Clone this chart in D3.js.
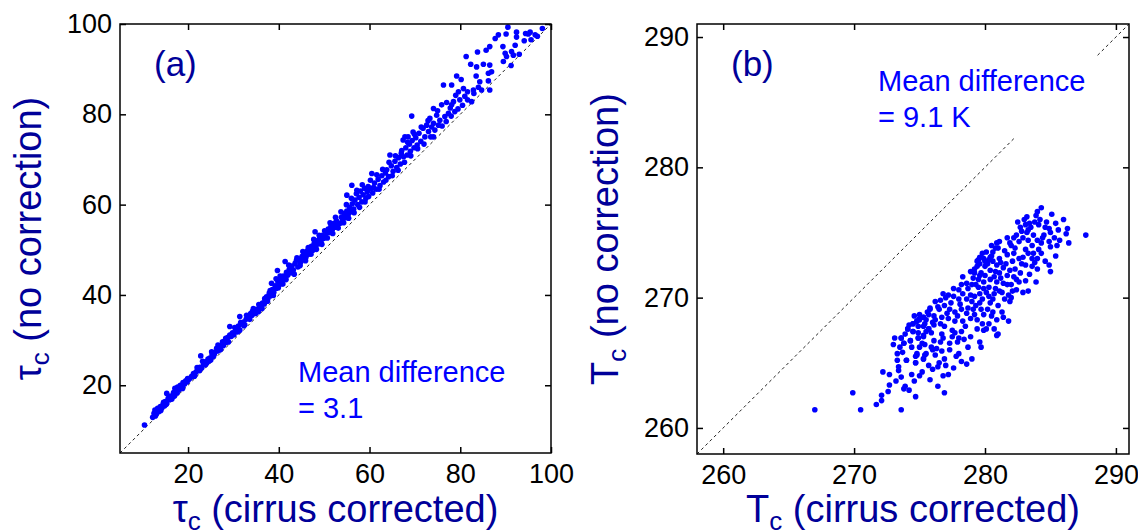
<!DOCTYPE html>
<html>
<head>
<meta charset="utf-8">
<script src="https://cdn.jsdelivr.net/npm/d3@7"></script>
<style>
  body { margin: 0; background: #fff; }
  text { font-family: "Liberation Sans", Arial, sans-serif; }
</style>
</head>
<body>
<div id="chart"></div>
<script>
// ---- data ----
const tauTicks = [20, 40, 60, 80, 100];
const tauDomain = [5, 100];
const tempTicks = [260, 270, 280, 290];
const tempDomain = [258, 291];

// one-to-one reference lines (panel b is broken around the annotation)
const tauDiagonal = [[[5, 5], [100, 100]]];
const tempDiagonal = [[[258, 258], [282.3, 282.3]], [[288.6, 288.6], [291, 291]]];

// (cirrus corrected, no correction) optical thickness
const tauPoints = [
  [10.4,11.2],[12.2,12.9],[12.5,13.8],[12.7,14.5],[13.0,13.6],[13.3,14.9],[13.6,14.2],[13.9,15.3],[14.2,15.0],[14.5,15.8],
  [14.8,15.4],[15.0,16.4],[15.3,16.0],[15.3,18.2],[15.6,17.0],[15.9,16.8],[16.2,17.6],[16.5,17.3],[16.8,18.4],[17.1,18.0],
  [17.1,19.3],[17.4,18.8],[17.7,19.6],[18.0,19.0],[18.3,20.0],[18.6,19.6],[18.9,20.6],[19.2,20.2],[19.5,21.0],[19.8,20.8],
  [20.1,21.2],[20.5,21.6],[21.2,22.6],[21.5,22.3],[21.8,23.0],[22.2,23.4],[22.8,26.5],[22.6,24.0],[23.0,23.8],[23.4,24.7],
  [23.8,24.5],[24.1,24.9],[24.4,25.8],[24.8,26.0],[25.0,25.6],[25.3,26.8],[25.6,26.4],[25.9,27.3],[26.3,28.2],[26.5,27.6],
  [26.8,28.5],[27.2,28.0],[27.5,29.0],[27.8,28.8],[28.1,29.8],[28.4,29.5],[28.8,30.6],[29.2,31.1],[29.2,33.0],[29.5,30.8],
  [29.8,31.6],[30.1,31.2],[30.5,32.4],[30.8,32.0],[31.1,33.1],[31.4,32.2],[31.4,35.2],[31.8,33.6],[32.2,34.0],[32.5,33.4],
  [32.8,34.6],[33.2,35.0],[33.5,34.8],[33.8,35.9],[34.1,35.5],[34.4,37.0],[34.8,36.4],[35.2,36.8],[35.5,36.3],[35.8,37.5],
  [36.1,37.2],[36.4,38.2],[36.8,38.0],[37.0,38.8],[37.3,39.6],[37.6,39.2],[37.9,40.4],[38.2,39.8],[38.4,42.6],[38.6,41.2],
  [38.9,40.6],[39.2,42.0],[39.5,41.5],[39.7,45.4],[39.8,43.0],[40.1,42.2],[40.4,43.4],[40.7,42.8],[41.0,44.2],[41.4,47.4],
  [41.3,43.6],[41.7,45.0],[42.0,44.4],[42.3,45.6],[42.6,44.9],[42.9,46.4],[43.2,45.5],[43.6,47.0],[43.9,47.7],[44.2,46.2],
  [44.5,47.9],[44.8,47.2],[45.1,48.5],[45.4,47.8],[45.7,49.2],[46.0,48.4],[46.3,49.8],[46.6,49.0],[46.9,50.0],[47.2,50.8],
  [47.5,49.9],[47.8,51.4],[48.0,54.0],[48.1,50.6],[48.4,52.0],[48.7,51.3],[49.0,52.6],[49.3,51.8],[49.6,53.2],[49.9,52.5],
  [50.2,53.0],[50.6,53.7],[50.9,54.6],[51.2,53.8],[51.5,55.2],[51.8,54.5],[52.1,55.8],[52.4,55.0],[52.7,56.4],[53.0,55.6],
  [53.5,55.9],[53.8,57.2],[54.1,56.3],[54.4,58.0],[54.7,57.1],[55.0,62.1],[55.0,58.6],[55.3,57.8],[55.6,59.4],[55.9,58.4],
  [56.1,64.3],[56.2,60.2],[56.5,59.0],[56.8,61.0],[57.1,62.4],[57.4,60.0],[57.7,61.6],[58.0,63.0],[58.3,60.6],[58.6,62.2],
  [58.9,63.6],[59.2,61.4],[59.7,64.0],[59.5,62.8],[59.8,61.8],[60.5,66.9],[60.3,63.6],[60.7,62.6],[61.1,64.8],[61.5,63.4],
  [61.9,65.6],[62.3,64.2],[62.7,66.4],[63.1,65.0],[63.5,67.0],[63.8,67.7],[64.2,66.2],[64.5,71.0],[64.8,68.6],[65.2,67.4],
  [65.6,69.6],[66.0,68.2],[66.4,70.4],[66.8,69.0],[67.1,72.0],[67.4,74.3],[67.5,70.6],[67.8,75.0],[68.0,72.6],[68.3,71.0],
  [68.5,75.0],[68.8,73.4],[69.0,71.8],[69.3,79.6],[69.4,74.2],[69.6,76.1],[69.8,72.6],[70.2,74.8],[70.5,73.2],[70.9,75.8],
  [71.3,74.0],[71.8,76.9],[72.2,75.0],[72.6,77.6],[73.0,76.2],[73.3,79.1],[73.7,77.2],[74.1,78.0],[74.1,81.3],[74.4,76.5],
  [74.1,75.0],[74.8,79.8],[75.2,77.6],[75.5,78.7],[75.9,82.1],[76.3,86.5],[76.6,79.5],[76.9,78.4],[77.4,80.2],[77.8,81.4],
  [78.1,82.1],[78.1,86.5],[78.5,82.8],[78.8,80.6],[79.2,88.5],[79.6,85.0],[79.9,83.2],[79.5,81.2],[80.2,87.7],[80.7,85.7],
  [80.5,82.0],[81.0,84.0],[81.3,92.8],[81.6,85.0],[81.6,83.2],[82.3,91.1],[82.5,82.8],[82.9,85.4],[83.0,84.6],[83.5,88.5],
  [83.6,90.5],[83.8,93.8],[84.0,86.0],[84.3,87.2],[84.7,85.4],[85.1,91.1],[85.7,94.2],[86.2,87.4],[86.2,89.1],[86.5,85.4],
  [86.5,90.9],[86.5,95.0],[86.9,89.4],[87.7,96.8],[88.4,97.6],[89.4,95.0],[89.5,91.7],[89.9,93.5],[90.1,97.8],[90.2,92.8],
  [90.5,99.3],[91.2,90.8],[91.3,93.9],[91.7,93.1],[92.1,95.3],[92.4,97.1],[92.4,98.2],[93.0,93.3],[94.1,96.3],[94.4,97.9],
  [95.0,97.8],[95.4,98.2],[95.6,96.5],[96.5,97.6],[97.0,97.3],[98.1,99.0],
  [12.8,13.2],[13.5,14.6],[14.0,14.4],[14.6,16.2],[15.2,15.8],[15.8,17.5],[16.4,16.9],[17.0,17.6],[17.6,18.3],[18.2,19.4],
  [18.8,19.3],[19.4,20.6],[19.9,21.5],[20.8,22.0],[21.4,22.0],[22.0,23.9],[22.5,23.2],[23.2,25.3],[23.9,25.2],[24.6,25.4],
  [25.2,27.4],[25.8,26.9],[26.6,28.9],[27.0,27.8],[27.6,29.6],[28.3,30.4],[28.9,29.6],[29.6,31.2],[30.3,32.8],[30.9,31.8],
  [31.6,33.9],[32.3,33.2],[32.9,35.5],[33.6,34.6],[34.2,36.4],[34.9,35.9],[35.6,37.9],[36.3,37.0],[36.9,39.2],[37.5,38.6],
  [38.1,41.0],[38.8,39.9],[39.4,43.6],[39.9,41.6],[40.3,44.2],[40.9,42.4],[41.6,43.4],[42.2,46.6],[42.8,45.2],[43.4,44.6],
  [44.0,48.2],[44.7,46.5],[45.3,49.6],[45.9,47.6],[46.5,50.5],[47.1,49.0],[47.7,52.3],[48.3,50.1],[48.9,53.2],[49.5,51.2],
  [50.1,54.2],[50.7,52.6],[51.3,56.0],[51.9,53.6],[52.5,57.2],[53.1,54.8],[53.7,58.4],[54.3,56.0],[54.9,60.0],[55.4,57.0],
  [56.0,61.4],[56.6,58.2],[57.2,63.2],[57.8,59.4],[58.4,64.4],[59.0,60.6],[59.6,63.2],[60.2,65.4],[60.9,63.8],[61.6,66.6],
  [62.1,63.4],[62.9,67.8],[63.6,65.4],[64.3,69.4],[65.0,66.4],[65.7,70.8],[66.3,67.6],[67.0,71.4],[67.7,69.4],[68.4,73.8],
  [69.1,70.8],[69.9,75.6],[70.6,72.4],[71.4,77.2],[72.0,73.4],[72.9,78.6],[73.5,75.0],[75.0,80.8],[76.0,77.4],[77.0,82.6],
  [78.0,79.6],[79.0,84.2]
];

// (cirrus corrected, no correction) cloud temperature, K
const tempPoints = [
  [267.0,261.4],[269.9,262.7],[270.5,261.4],[271.7,261.8],[272.1,262.1],[272.1,262.5],[272.6,262.8],[273.6,261.4],[272.7,263.3],[273.2,263.6],
  [273.9,263.2],[274.2,262.9],[274.7,262.4],[272.2,264.3],[272.7,264.1],[273.6,263.9],[274.4,264.1],[273.4,264.4],[273.4,264.7],[273.3,265.2],
  [274.0,265.2],[274.7,265.0],[274.7,265.5],[274.8,265.7],[275.2,264.3],[275.3,265.3],[275.4,265.6],[275.7,264.8],[273.3,265.7],[273.0,266.4],
  [273.1,266.9],[273.6,266.9],[273.5,266.2],[273.8,266.5],[274.3,266.7],[274.9,266.9],[275.2,266.5],[275.3,267.0],[274.1,267.6],[274.5,267.4],
  [274.5,268.0],[274.8,268.2],[275.0,268.4],[275.3,268.5],[275.5,268.3],[275.7,268.7],[275.3,267.8],[275.7,267.6],[275.8,269.2],[284.3,276.9],
  [283.9,276.3],[286.0,276.0],[287.7,274.8],[285.6,275.2],[286.2,274.9],[286.4,274.2],[285.7,274.4],[285.3,274.6],[284.9,275.3],[284.9,274.3],
  [285.0,273.9],[284.5,274.8],[284.1,275.6],[283.4,275.7],[283.1,275.6],[282.7,275.4],[282.8,275.1],[283.3,275.2],[283.7,274.8],[284.0,274.4],
  [284.3,274.2],[283.6,274.0],[284.1,273.7],[283.7,273.4],[283.1,273.7],[282.4,274.8],[282.2,274.6],[281.7,274.6],[282.0,274.0],[281.1,274.3],
  [281.0,273.8],[280.6,273.5],[280.4,273.1],[279.9,273.0],[279.6,272.6],[279.4,272.4],[280.0,272.4],[280.6,272.8],[281.1,273.0],[281.7,273.3],
  [282.2,273.4],[282.6,273.0],[282.9,273.1],[283.3,273.4],[283.6,273.0],[284.0,273.0],[283.1,272.5],[283.6,272.4],[284.0,272.2],[284.9,272.5],
  [285.0,272.0],[283.3,270.5],[282.7,271.9],[283.1,271.3],[282.4,271.4],[282.2,271.6],[281.9,272.1],[281.7,271.7],[281.1,271.9],[280.8,272.0],
  [280.4,272.1],[280.0,271.7],[279.6,271.7],[279.2,271.9],[279.1,271.5],[279.5,271.4],[279.9,271.2],[280.4,271.4],[280.9,271.2],[281.4,271.1],
  [282.0,271.0],[282.1,270.5],[281.8,270.2],[281.9,269.7],[281.5,269.9],[281.1,270.5],[280.8,270.7],[280.3,270.8],[279.9,270.7],[279.5,270.8],
  [279.0,271.0],[278.6,271.1],[278.2,271.0],[278.0,270.6],[277.6,270.7],[278.3,270.3],[278.9,270.2],[279.2,270.1],[279.8,269.9],[280.3,270.1],
  [280.6,269.9],[280.4,269.6],[279.6,269.6],[279.0,269.7],[278.6,269.9],[278.0,269.9],[277.6,270.1],[277.2,270.2],[276.8,270.3],[276.6,269.8],
  [276.2,269.7],[276.4,269.3],[276.9,269.4],[277.3,269.1],[277.7,268.9],[278.2,269.1],[278.7,269.2],[279.1,269.1],[279.7,269.1],[279.9,268.7],
  [280.5,268.6],[281.3,268.9],[281.8,268.2],[279.4,268.3],[278.9,268.4],[278.3,268.2],[277.7,268.2],[277.2,268.4],[276.7,268.5],[276.1,268.6],
  [275.8,269.1],[275.3,268.5],[275.0,268.3],[274.8,268.2],[274.5,268.0],[274.1,267.6],[274.5,267.4],[274.9,267.8],[275.4,268.0],[275.7,267.6],
  [276.1,267.9],[276.6,268.0],[276.9,267.8],[277.5,267.5],[277.7,267.3],[278.2,267.4],[278.0,266.9],[277.5,267.0],[276.8,266.9],[276.6,266.6],
  [276.1,266.7],[275.9,267.3],[275.3,267.1],[274.9,266.9],[274.3,266.7],[273.8,266.5],[273.6,266.9],[275.4,266.4],[275.9,266.2],[276.3,266.1],
  [276.7,265.9],[277.3,266.0],[276.9,265.3],[276.2,265.6],[275.5,265.7],[275.3,265.3],[274.8,265.6],[274.7,265.0],[274.0,265.2],[278.2,265.1],
  [278.7,266.2],[279.0,265.3],[279.6,266.6],[279.7,266.2],[279.4,267.6],[279.9,267.5],[280.3,268.0],[280.7,267.6],[280.9,267.1],[281.0,267.2],
  [280.1,267.6],[279.6,273.1],[280.1,273.5],[280.5,274.0],[280.9,274.2],[280.0,272.8],[279.4,272.8],[277.2,264.1],[276.4,263.2],[276.9,262.7],
  [276.5,265.0],[277.0,264.8],[277.8,265.5],[276.0,264.5],
  [279.2,272.2],[279.5,272.9],[279.8,273.4],[280.2,272.6],[280.5,273.2],[280.8,273.8],[281.2,272.7],[281.5,273.6],[281.9,274.2],[282.3,273.8],
  [282.6,274.3],[282.9,274.6],[283.2,275.0],[283.5,275.4],[283.8,275.8],[284.2,276.0],[284.6,275.4],[284.7,275.8],[285.1,276.4],[285.4,275.7],
  [283.0,276.0],[282.5,275.8],[284.4,274.6],[283.3,274.4],[282.8,272.6],[282.1,272.8],[281.4,272.3],[280.9,272.5],[280.3,272.9],[279.7,271.9],
  [280.7,271.6],[281.2,271.5],[281.6,272.6],[282.3,272.2],[282.6,271.2],[283.4,271.8],[283.8,272.7],[284.3,273.4],[284.6,272.8],[285.4,273.2],
  [285.5,274.0],[279.3,271.0],[278.7,270.7],[278.3,271.6],[278.9,272.0],[279.6,270.3],[280.1,270.4],[280.7,270.3],[281.3,270.4],[281.7,271.0],
  [282.4,270.6],[282.9,270.4],[281.0,269.4],[281.4,268.5],[280.9,268.3],[280.2,269.1],[279.3,269.4],[278.6,268.8],[278.1,269.5],[277.4,269.6],
  [277.0,270.0],[276.5,269.1],[276.0,268.1],[275.6,268.9],[275.0,268.7],[274.6,268.6],[274.9,267.3],[275.5,267.4],[276.2,268.3],[276.7,267.2],
  [277.1,268.8],[277.9,268.6],[278.5,267.8],[279.2,268.7],[279.8,268.0],[280.6,268.9],[277.3,266.5],[277.9,266.6],[278.4,266.8],[278.9,267.0],
  [276.0,266.0],[275.0,266.2],[274.4,266.2],[273.9,267.2],[274.2,267.9],[273.7,265.8],[276.4,264.7],[277.6,264.6],[278.0,265.7],[276.8,264.0],
  [275.8,263.7],[275.0,264.0],[274.6,263.6],[273.8,263.0],[278.6,264.9],[282.0,270.0],[283.9,271.2],[285.0,275.0],[286.3,275.3],[284.0,276.6],
  [283.2,276.2]
];

// ---- layout ----
const W = 1138, H = 531;
const navy = '#000099';
const dotBlue = '#0000ff';

const svg = d3.select('#chart').append('svg')
  .attr('width', W)
  .attr('height', H);

function drawPanel(p) {
  const g = svg.append('g');

  const x = d3.scaleLinear().domain(p.domain).range([p.left, p.right]);
  const y = d3.scaleLinear().domain(p.domain).range([p.bottom, p.top]);

  // 1:1 line
  const line = d3.line().x(d => x(d[0])).y(d => y(d[1]));
  p.diagonal.forEach(seg => {
    g.append('path')
      .attr('d', line(seg))
      .attr('fill', 'none')
      .attr('stroke', '#222')
      .attr('stroke-width', 1)
      .attr('stroke-dasharray', '3,3');
  });

  // scatter
  g.append('g')
    .selectAll('circle')
    .data(p.points)
    .join('circle')
    .attr('cx', d => x(d[0]))
    .attr('cy', d => y(d[1]))
    .attr('r', 2.8)
    .attr('fill', dotBlue);

  // axes: inward ticks on all four sides, labels only bottom/left
  const styleAxis = a => {
    a.select('.domain').remove();
    a.selectAll('line').attr('stroke', '#000').attr('stroke-width', 1.5);
    a.selectAll('text')
      .attr('font-family', '"Liberation Sans", Arial, sans-serif')
      .attr('font-size', 27)
      .attr('fill', '#000');
  };

  g.append('g')
    .attr('transform', `translate(0,${p.bottom})`)
    .call(d3.axisBottom(x).tickValues(p.ticks).tickSize(-6).tickPadding(11))
    .call(styleAxis);
  g.append('g')
    .attr('transform', `translate(0,${p.top})`)
    .call(d3.axisTop(x).tickValues(p.ticks).tickSize(-6).tickFormat(''))
    .call(styleAxis);
  g.append('g')
    .attr('transform', `translate(${p.left},0)`)
    .call(d3.axisLeft(y).tickValues(p.ticks).tickSize(-6).tickPadding(8))
    .call(styleAxis);
  g.append('g')
    .attr('transform', `translate(${p.right},0)`)
    .call(d3.axisRight(y).tickValues(p.ticks).tickSize(-6).tickFormat(''))
    .call(styleAxis);

  // frame
  g.append('rect')
    .attr('x', p.left)
    .attr('y', p.top)
    .attr('width', p.right - p.left)
    .attr('height', p.bottom - p.top)
    .attr('fill', 'none')
    .attr('stroke', '#000')
    .attr('stroke-width', 1.5);

  // axis titles with subscript c
  const addTitle = (sel) => {
    sel.append('tspan').text(p.sym);
    sel.append('tspan').attr('font-size', 26).attr('dy', 8).text('c');
    sel.append('tspan').attr('dy', -8).text(' ' + sel.datum());
  };

  g.append('text')
    .datum(p.xTitle)
    .attr('x', (p.left + p.right) / 2)
    .attr('y', 522)
    .attr('text-anchor', 'middle')
    .attr('font-size', 38)
    .attr('fill', navy)
    .call(addTitle);

  g.append('text')
    .datum(p.yTitle)
    .attr('transform', `translate(${p.left - 79},${(p.top + p.bottom) / 2}) rotate(-90)`)
    .attr('text-anchor', 'middle')
    .attr('font-size', 38)
    .attr('fill', navy)
    .call(addTitle);

  // panel letter
  g.append('text')
    .attr('x', p.left + 34)
    .attr('y', 76)
    .attr('font-size', 35)
    .attr('fill', navy)
    .text(p.letter);

  // mean difference note
  const note = g.append('text')
    .attr('font-size', 29)
    .attr('fill', dotBlue);
  p.note.forEach((t, i) => {
    note.append('tspan')
      .attr('x', p.noteX)
      .attr('y', p.noteY + i * 36)
      .text(t);
  });
}

drawPanel({
  left: 120, right: 551, top: 24, bottom: 453,
  domain: tauDomain, ticks: tauTicks,
  points: tauPoints, diagonal: tauDiagonal,
  sym: 'τ', xTitle: '(cirrus corrected)', yTitle: '(no correction)',
  letter: '(a)',
  note: ['Mean difference', '= 3.1'], noteX: 298, noteY: 382
});

drawPanel({
  left: 697, right: 1129, top: 24, bottom: 454,
  domain: tempDomain, ticks: tempTicks,
  points: tempPoints, diagonal: tempDiagonal,
  sym: 'T', xTitle: '(cirrus corrected)', yTitle: '(no correction)',
  letter: '(b)',
  note: ['Mean difference', '= 9.1 K'], noteX: 878, noteY: 91
});
</script>
</body>
</html>
